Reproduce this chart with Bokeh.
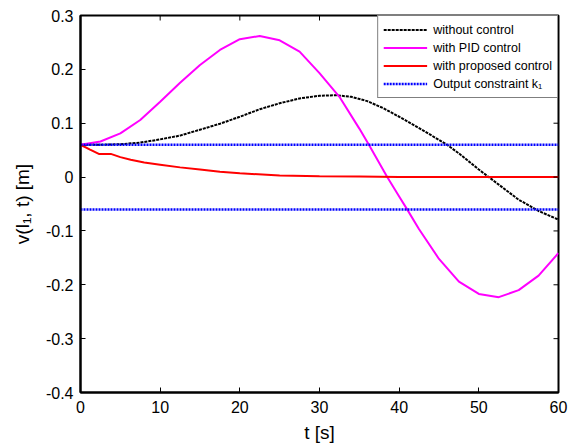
import math
from bokeh.plotting import figure
from bokeh.models import FixedTicker, Range1d, Legend, LegendItem
from bokeh.embed import file_html
from bokeh.resources import INLINE

# ---- data ----
t_without = [0, 2.5, 5, 7.5, 10, 12.5, 15, 17.5, 20, 22.5, 25, 27.5, 30, 32, 34,
             36, 38, 40, 42.5, 45, 46, 47.5, 50, 52.5, 55, 57.5, 60]
v_without = [0.060, 0.060, 0.061, 0.064, 0.070, 0.077, 0.088, 0.099, 0.112, 0.126,
             0.137, 0.146, 0.151, 0.152, 0.149, 0.141, 0.128, 0.112, 0.091, 0.069,
             0.060, 0.044, 0.014, -0.014, -0.042, -0.063, -0.079]

t_pid = [0, 2.5, 5, 7.5, 10, 12.5, 15, 17.5, 20, 22.5, 25, 27.5, 30, 32.5, 35,
         36.2, 38.5, 40, 41, 42.5, 45, 47.5, 50, 52.5, 55, 57.5, 60]
v_pid = [0.060, 0.066, 0.081, 0.106, 0.140, 0.175, 0.208, 0.236, 0.256, 0.262,
         0.254, 0.233, 0.193, 0.149, 0.090, 0.060, 0.000, -0.036, -0.060, -0.097,
         -0.152, -0.194, -0.217, -0.223, -0.210, -0.183, -0.141]

t_prop = [0, 1.2, 2.3, 3.8, 5, 6.3, 8, 10, 12.5, 15, 17.5, 20, 25, 30, 35, 40, 50, 60]
v_prop = [0.060, 0.051, 0.043, 0.043, 0.037, 0.032, 0.027, 0.023, 0.018, 0.014,
          0.010, 0.007, 0.003, 0.0015, 0.001, 0.000, 0.000, 0.000]

t_limit = [0, 60]
k1_upper = [0.06, 0.06]
k1_lower = [-0.06, -0.06]

x_ticks = [0, 10, 20, 30, 40, 50, 60]
y_ticks = [-0.4, -0.3, -0.2, -0.1, 0, 0.1, 0.2, 0.3]
y_tick_labels = ["-0.4", "-0.3", "-0.2", "-0.1", "0", "0.1", "0.2", "0.3"]

labels = ["without control", "with PID control", "with proposed control",
          "Output constraint k\u2081"]

FONT = "Liberation Sans"
X_MIN, X_MAX = 0, 60
Y_MIN, Y_MAX = -0.4, 0.3

p = figure(width=569, height=446, output_backend="svg", toolbar_location=None,
           x_range=Range1d(X_MIN, X_MAX), y_range=Range1d(Y_MIN, Y_MAX),
           min_border_left=80, min_border_right=11, min_border_top=15,
           min_border_bottom=54)
p.grid.visible = False
p.outline_line_color = "black"
p.outline_line_width = 2
p.background_fill_color = "white"
p.border_fill_color = "white"

r_without = p.line(t_without, v_without, line_color="black", line_width=2, line_dash="3 1")
r_pid = p.line(t_pid, v_pid, line_color="#ff00ff", line_width=2)
r_prop = p.line(t_prop, v_prop, line_color="#ff0000", line_width=2)
r_k1 = p.line(t_limit, k1_upper, line_color="#0000ff", line_width=2.5, line_dash="2 1")
p.line(t_limit, k1_lower, line_color="#0000ff", line_width=2.5, line_dash="2 1")

# inward ticks on the top and right edges (half of each dash is clipped by the frame)
p.scatter(x_ticks, [Y_MAX] * len(x_ticks), marker="dash", size=10, angle=math.pi / 2,
          line_color="black", line_width=1)
p.scatter([X_MAX] * len(y_ticks), y_ticks, marker="dash", size=10,
          line_color="black", line_width=1)

xa = p.xaxis[0]
ya = p.yaxis[0]
xa.ticker = FixedTicker(ticks=x_ticks)
ya.ticker = FixedTicker(ticks=y_ticks)
ya.major_label_overrides = {v: s for v, s in zip(y_ticks, y_tick_labels)}
for ax in (xa, ya):
    ax.minor_tick_line_color = None
    ax.major_tick_in = 5
    ax.major_tick_out = 0
    ax.major_tick_line_color = "black"
    ax.major_tick_line_width = 1
    ax.axis_line_color = "black"
    ax.axis_line_width = 2
    ax.major_label_text_font = FONT
    ax.major_label_text_font_size = "16px"
    ax.major_label_text_color = "black"
    ax.axis_label_text_font = FONT
    ax.axis_label_text_font_size = "19px"
    ax.axis_label_text_font_style = "normal"
    ax.axis_label_text_color = "black"
xa.major_label_standoff = 8
ya.major_label_standoff = 7
xa.axis_label = "t [s]"
ya.axis_label = "v(l\u2081, t) [m]"
xa.axis_label_standoff = 6
ya.axis_label_standoff = 10

legend = Legend(items=[LegendItem(label=labels[0], renderers=[r_without]),
                       LegendItem(label=labels[1], renderers=[r_pid]),
                       LegendItem(label=labels[2], renderers=[r_prop]),
                       LegendItem(label=labels[3], renderers=[r_k1])],
                location="top_right")
legend.margin = 0
legend.padding = 5
legend.spacing = 1
legend.glyph_width = 44
legend.glyph_height = 17
legend.label_height = 17
legend.label_standoff = 6
legend.label_text_font = FONT
legend.label_text_font_size = "12.5px"
legend.label_text_color = "black"
legend.border_line_color = "black"
legend.border_line_width = 1.5
legend.background_fill_color = "white"
legend.background_fill_alpha = 1
p.add_layout(legend, "center")

open("out.html", "w").write(file_html(p, INLINE))
